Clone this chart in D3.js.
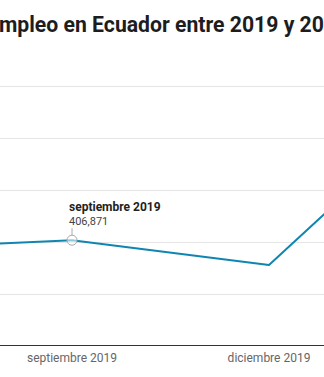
<!DOCTYPE html>
<html>
<head>
<meta charset="utf-8">
<script src="https://cdn.jsdelivr.net/npm/d3@7"></script>
<style>
  html, body { margin: 0; padding: 0; background: #fff; overflow: hidden; }
  svg { display: block; font-family: Roboto, "Noto Sans", sans-serif; }
</style>
</head>
<body>
<svg id="chart" width="324" height="377"></svg>
<script>
// Desempleo trimestral (personas)
const periods = ["junio 2019", "septiembre 2019", "diciembre 2019", "junio 2020"];
const unemployed = [372000, 406871, 311134, 1009583];
const yTicks = [0, 200000, 400000, 600000, 800000, 1000000];
const xTickLabels = ["septiembre 2019", "diciembre 2019"];
const highlight = "septiembre 2019";
const title = "Desempleo en Ecuador entre 2019 y 2020";

const W = 324, H = 377;
const svg = d3.select("#chart");

// Horizontal window of the plot: one quarter step = 197px
const x = d3.scalePoint().domain(periods).range([-125, 466]);
const y = d3.scaleLinear().domain([0, 1000000]).range([346, 86]);

// Title (the plot is wider than the window, so the title is clipped)
const titleSize = 21.2;
const measure = svg.append("text")
  .attr("font-size", titleSize).attr("font-weight", 700).text("Dese");
const preW = measure.node().getComputedTextLength();
measure.remove();
svg.append("text")
  .attr("x", -preW - 1).attr("y", 32)
  .attr("font-size", titleSize).attr("font-weight", 700)
  .attr("fill", "#1d1d1d")
  .text(title);

// Gridlines
svg.append("g")
  .selectAll("line")
  .data(yTicks.filter(d => d > 0))
  .join("line")
  .attr("x1", 0).attr("x2", W)
  .attr("y1", d => Math.round(y(d)) + 0.5)
  .attr("y2", d => Math.round(y(d)) + 0.5)
  .attr("stroke", "#e5e5e5").attr("stroke-width", 1);

// Baseline
svg.append("line")
  .attr("x1", 0).attr("x2", W)
  .attr("y1", Math.round(y(0)) - 0.5).attr("y2", Math.round(y(0)) - 0.5)
  .attr("stroke", "#333").attr("stroke-width", 1);

// X axis labels
svg.append("g")
  .selectAll("text")
  .data(xTickLabels)
  .join("text")
  .attr("x", d => x(d))
  .attr("y", 362)
  .attr("text-anchor", "middle")
  .attr("font-size", 12)
  .attr("fill", "#666")
  .text(d => d);

// Line
const data = periods.map((p, i) => ({ p, v: unemployed[i] }));
svg.append("path")
  .datum(data)
  .attr("fill", "none")
  .attr("stroke", "#0f86b1")
  .attr("stroke-width", 2)
  .attr("stroke-linejoin", "round")
  .attr("d", d3.line().x(d => x(d.p)).y(d => y(d.v)));

// Highlighted point with annotation
const hi = data.find(d => d.p === highlight);
const hx = x(hi.p), hy = y(hi.v);
svg.append("line")
  .attr("x1", hx).attr("x2", hx)
  .attr("y1", hy - 12).attr("y2", hy - 5)
  .attr("stroke", "#aaa").attr("stroke-width", 1);
svg.append("circle")
  .attr("cx", hx).attr("cy", hy).attr("r", 5)
  .attr("fill", "rgba(255,255,255,0.55)")
  .attr("stroke", "#aaa").attr("stroke-width", 1);
svg.append("text")
  .attr("x", hx - 3).attr("y", hy - 29)
  .attr("font-size", 12).attr("font-weight", 700)
  .attr("fill", "#222")
  .text(hi.p);
svg.append("text")
  .attr("x", hx - 3).attr("y", hy - 15)
  .attr("font-size", 11)
  .attr("fill", "#444")
  .text(d3.format(",")(hi.v));
</script>
</body>
</html>
